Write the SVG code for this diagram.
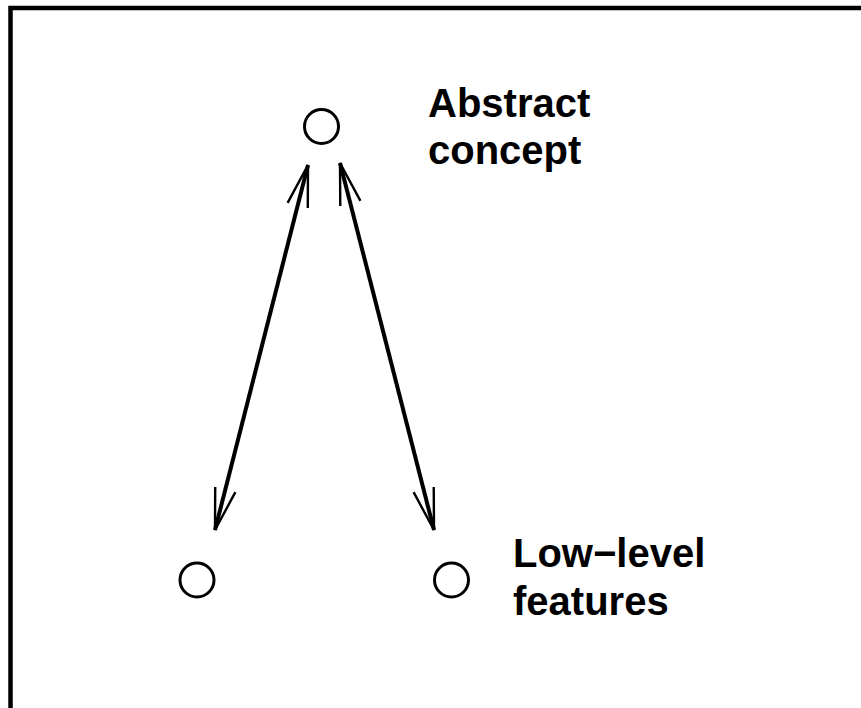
<svg xmlns="http://www.w3.org/2000/svg" width="861" height="708" viewBox="0 0 861 708">
  <style>
    .node { fill: none; stroke: #000; stroke-width: 3; }
    .link { fill: none; stroke: #000; stroke-width: 4; marker-start: url(#head); marker-end: url(#head); }
    .label { font-family: "Liberation Sans", Arial, sans-serif; font-weight: bold; font-size: 40px; fill: #000; }
  </style>
  <defs>
    <!-- open V arrowhead; tip at the path end -->
    <marker id="head" markerUnits="userSpaceOnUse" viewBox="-46 -14 50 28" refX="0" refY="0" markerWidth="50" markerHeight="28" orient="auto-start-reverse" overflow="visible">
      <path d="M -41.7 -10.4 L 0 0 L -41.7 10.4" fill="none" stroke="#000" stroke-width="2.4"/>
    </marker>
  </defs>
  <rect width="861" height="708" fill="#fff"/>
  <!-- frame (top and left edges) -->
  <path d="M 10.5 708 V 8 H 861" fill="none" stroke="#000" stroke-width="4.5"/>

  <g id="connectors">
    <path class="link" d="M 308 165 L 215 530"/>
    <path class="link" d="M 340 163 L 434 530"/>
  </g>

  <g id="abstract">
    <circle class="node" cx="321.5" cy="126.5" r="17"/>
    <text class="label" x="428" y="117">Abstract</text>
    <text class="label" x="428" y="164">concept</text>
  </g>
  <g id="low-left">
    <circle class="node" cx="197" cy="580" r="17"/>
  </g>
  <g id="low-right">
    <circle class="node" cx="451.5" cy="580" r="17"/>
    <text class="label" x="513" y="567">Low−level</text>
    <text class="label" x="513" y="615">features</text>
  </g>
</svg>
